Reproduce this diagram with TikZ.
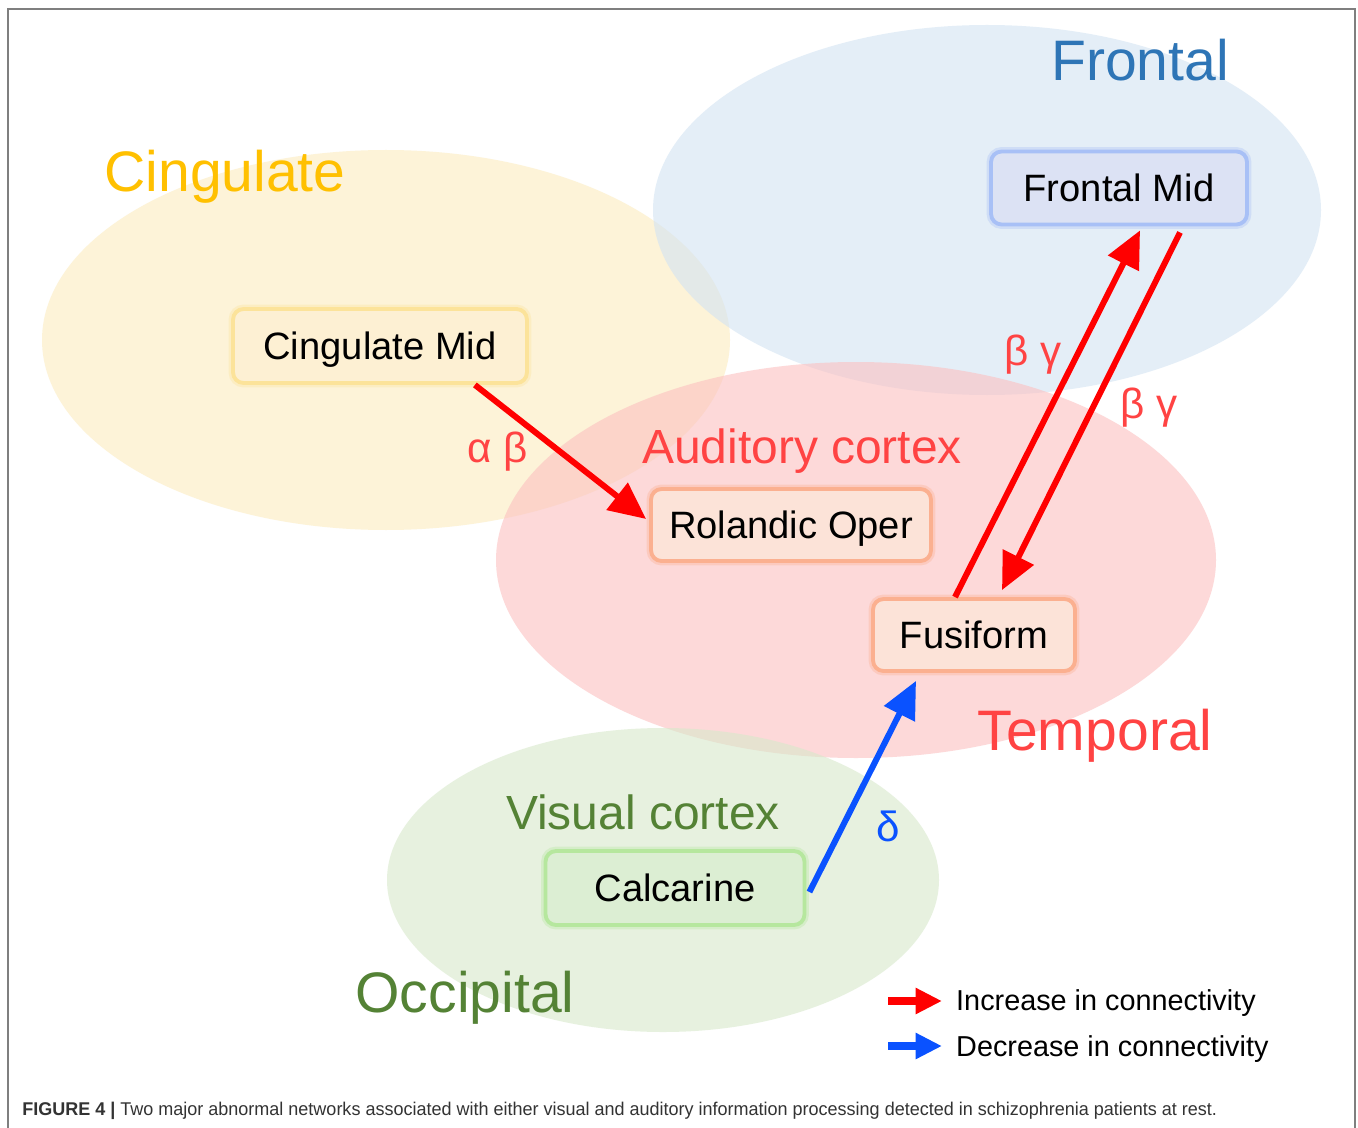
\documentclass[tikz,border=0pt]{standalone}
\usepackage{fontspec}
\usepackage{graphicx}
\setmainfont{Liberation Sans}
\usetikzlibrary{arrows.meta, calc}
\definecolor{FRfill}{HTML}{D2E3F3}
\definecolor{CIfill}{HTML}{FCEBBE}
\definecolor{TEfill}{HTML}{FCC0C0}
\definecolor{OCfill}{HTML}{D7E9CB}
\definecolor{FRtext}{HTML}{2E75B6}
\definecolor{CItext}{HTML}{FFC000}
\definecolor{TEtext}{HTML}{FF4343}
\definecolor{OCtext}{HTML}{548235}
\definecolor{INC}{HTML}{FF0000}
\definecolor{DEC}{HTML}{0A52FF}
\definecolor{frame}{HTML}{7F7F7F}
\definecolor{FRbox}{HTML}{DCE2F4}
\definecolor{FRedge}{HTML}{A8C0F6}
\definecolor{CIbox}{HTML}{FDF0D3}
\definecolor{CIedge}{HTML}{FCE39A}
\definecolor{TEbox}{HTML}{FCE3D8}
\definecolor{TEedge}{HTML}{FBB090}
\definecolor{OCbox}{HTML}{DCEED3}
\definecolor{OCedge}{HTML}{B6E79E}
\tikzstyle{region} = [fill opacity=0.6]
\tikzstyle{big} = [font=\fontsize{32.5}{38}\selectfont, text height=23.4pt, text depth=0pt]
\tikzstyle{mid} = [font=\fontsize{27.3}{32}\selectfont, text height=19.7pt, text depth=0pt]
\tikzstyle{greek} = [font=\fontsize{24}{28}\selectfont, text height=17.3pt, text depth=0pt]
\tikzstyle{legtext} = [anchor=west, font=\fontsize{16.4}{20}\selectfont, text height=11.8pt, text depth=0pt]
\tikzstyle{arrow} = [line width=3.4pt, -{Triangle[length=21pt,width=19pt]}]
\tikzstyle{legarrow} = [line width=4.5pt, -{Triangle[length=15pt,width=14pt]}]
\tikzset{area/.style 2 args={rectangle, rounded corners=6pt, fill=#1, draw=#2, line width=2.2pt,
    preaction={draw=#2, line width=5pt, draw opacity=0.35},
    text centered, text=black, font=\fontsize{21.7}{26}\selectfont, text height=15.6pt, text depth=0pt}}

\begin{document}
\begin{tikzpicture}[x=0.02cm, y=-0.02cm]

\useasboundingbox (0,0) rectangle (1358,1128);
\fill[white] (0,0) rectangle (1358,1128);
\draw[frame, line width=0.8pt] (8,1128) |- (1355,9) -- (1355,1128);

% regions
\fill[region, CIfill] (386,340) ellipse (344 and 190);
\fill[region, FRfill] (987,210) ellipse (334 and 185);
\fill[region, TEfill] (856,560) ellipse (360 and 198);
\fill[region, OCfill] (663,880) ellipse (276 and 152);

\node (frl) [big, text=FRtext] at (1140,60) {Frontal};
\node (cil) [big, text=CItext] at (225,171) {Cingulate};
\node (aul) [mid, text=TEtext] at (802,446) {Auditory cortex};
\node (tel) [big, text=TEtext] at (1095,730) {Temporal};
\node (vil) [mid, text=OCtext] at (643,812) {Visual cortex};
\node (ocl) [big, text=OCtext] at (465,992) {Occipital};

% areas
\node (fro) [area={FRbox}{FRedge}, minimum width=5.12cm, minimum height=1.46cm] at (1119,188) {Frontal Mid};
\node (cin) [area={CIbox}{CIedge}, minimum width=5.88cm, minimum height=1.48cm] at (380,346) {Cingulate Mid};
\node (rol) [area={TEbox}{TEedge}, minimum width=5.6cm, minimum height=1.44cm] at (791,525) {Rolandic Oper};
\node (fus) [area={TEbox}{TEedge}, minimum width=4.04cm, minimum height=1.44cm] at (974,635) {Fusiform};
\node (cal) [area={OCbox}{OCedge}, minimum width=5.18cm, minimum height=1.48cm] at (675,888) {Calcarine};

% connections
\draw [arrow, INC] ($(cin.south east)+(-54,0)$) -- ($(rol.west)+(-3,-6)$);
\draw [arrow, INC] ($(fus.north)+(-19,0)$) -- ($(fro.south)+(21,4)$);
\draw [arrow, INC] ($(fro.south)+(61,6)$) -- ($(fus.north)+(28,-7)$);
\draw [arrow, DEC] ($(cal.east)+(3,4)$) -- ($(fus.south)+(-58,8)$);

\node (ab) [greek, text=TEtext] at (498,447) {α β};
\node (bg1) [greek, text=TEtext] at (1033,350) {β γ};
\node (bg2) [greek, text=TEtext] at (1149,403) {β γ};
\node (de) [greek, text=DEC] at (888,826) {δ};

% legend
\coordinate (inc) at (888,1001);
\coordinate (dec) at (888,1046);
\node (inct) [legtext] at (950,1000) {Increase in connectivity};
\node (dect) [legtext] at (950,1046) {Decrease in connectivity};
\draw [legarrow, INC] (inc) -- ($(inct.west)+(-8,1)$);
\draw [legarrow, DEC] (dec) -- ($(dect.west)+(-8,0)$);

\node (cap) [anchor=west, inner sep=0pt, text=black!80] at (22,1111)
  {\resizebox{680pt}{\height}{\fontsize{10.5}{12}\selectfont\textbf{FIGURE 4 |} Two major abnormal networks associated with either visual and auditory information processing detected in schizophrenia patients at rest.}};

\end{tikzpicture}
\end{document}
